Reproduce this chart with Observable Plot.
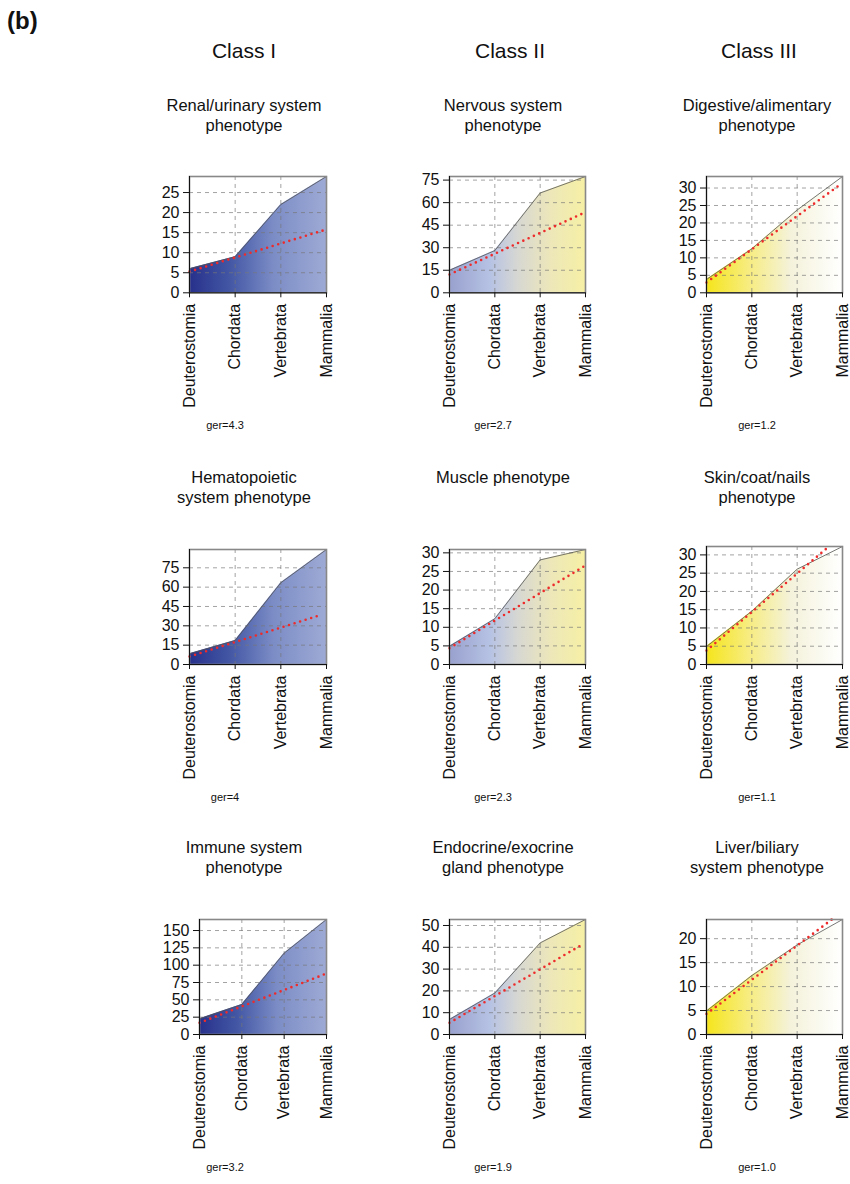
<!DOCTYPE html>
<html><head><meta charset="utf-8">
<script src="https://cdn.jsdelivr.net/npm/d3@7"></script>
<script src="https://cdn.jsdelivr.net/npm/@observablehq/plot@0.6"></script>
<style>
body{margin:0;background:#fff;font-family:"Liberation Sans",Arial,sans-serif;overflow:hidden}
#page{position:relative;width:850px;height:1184px;overflow:hidden}
.t{position:absolute;white-space:nowrap;transform:translateX(-50%);text-align:center;color:#111}
.p{position:absolute}
</style></head><body><div id="page"></div>
<script>
// ---- data ----
const clades = ["Deuterostomia", "Chordata", "Vertebrata", "Mammalia"];
const classes = ["Class I", "Class II", "Class III"];
const titles = [
  "Renal/urinary system\nphenotype", "Nervous system\nphenotype", "Digestive/alimentary\nphenotype",
  "Hematopoietic\nsystem phenotype", "Muscle phenotype", "Skin/coat/nails\nphenotype",
  "Immune system\nphenotype", "Endocrine/exocrine\ngland phenotype", "Liver/biliary\nsystem phenotype"
];
const gerLabels = ["ger=4.3", "ger=2.7", "ger=1.2", "ger=4", "ger=2.3", "ger=1.1", "ger=3.2", "ger=1.9", "ger=1.0"];
const counts = [
  [6, 9, 22, 29],
  [15, 28.1, 66.4, 77.4],
  [3.8, 12.6, 23.7, 33.3],
  [8.3, 18.6, 63.4, 89.2],
  [4.9, 12.3, 28.1, 30.9],
  [4.9, 14.6, 26.1, 32.3],
  [22.6, 43.3, 117.3, 165.9],
  [6.9, 19, 42, 52.75],
  [4.9, 12.3, 18.7, 24]
];
const fitStart = [5.3, 12.2, 2.95, 6.2, 4.4, 3.8, 16.8, 5.35, 4.3];
const fitEnd = [15.8, 53.1, 31.0, 38.0, 26.6, 32.1, 88, 41.3, 24.4];
const fitEndX = [3, 2.96, 2.95, 2.84, 3, 2.68, 3, 2.93, 2.82];
const tickStep = [5, 15, 5, 15, 5, 5, 25, 10, 5];

// ---- styles / layout ----
const gradStops = [
  [[0, "#27308a"], [0.3, "#4357a5"], [0.62, "#7c8dc6"], [1, "#9eaad5"]],
  [[0, "#98a0cd"], [0.3, "#b6c2e4"], [0.5, "#d6d7d3"], [0.75, "#ede7b9"], [1, "#f6f0a5"]],
  [[0, "#f5e51a"], [0.3, "#f7ec7c"], [0.62, "#f4f2da"], [1, "#ffffff"]]
];
const colLeft = [189, 448.5, 706];
const colRight = [326, 584.5, 842];
const rowTop = [176, 549, 919];
const rowBottom = [292.3, 664, 1034];
const classX = [244, 510, 759];
const titleX = [244, 503, 757];
const titleTop = [95, 467, 837];
const gerX = [225, 493, 757];
const gerTop = [418, 790, 1160];

const page = document.getElementById("page");

// gradient defs shared by all panels
const defsSvg = d3.select(page).append("svg").attr("width", 0).attr("height", 0)
  .style("position", "absolute").style("left", 0).style("top", 0);
const defs = defsSvg.append("defs");
gradStops.forEach((stops, c) => {
  const lg = defs.append("linearGradient").attr("id", "grad" + c)
    .attr("x1", 0).attr("x2", 1).attr("y1", 0).attr("y2", 0);
  stops.forEach(([o, col]) => lg.append("stop").attr("offset", o).attr("stop-color", col));
});

function addText(txt, x, y, css) {
  const d = document.createElement("div");
  d.className = "t";
  d.style.left = x + "px";
  d.style.top = y + "px";
  Object.assign(d.style, css);
  d.innerHTML = txt.split("\n").join("<br>");
  page.appendChild(d);
}

// panel label
const b = document.createElement("div");
b.textContent = "(b)";
Object.assign(b.style, {position: "absolute", left: "7px", top: "7px", fontSize: "24px", fontWeight: "bold", color: "#111"});
page.appendChild(b);

classes.forEach((c, i) => addText(c, classX[i], 38, {fontSize: "21px", lineHeight: "25px"}));

const mL = 60, mR = 4, mT = 6, mB = 130;

counts.forEach((vals, i) => {
  const c = i % 3, r = Math.floor(i / 3);
  const left = (c === 0 && r === 2) ? 199 : colLeft[c];
  const top = (i === 5) ? 546 : rowTop[r];
  const pw = colRight[c] - left, ph = rowBottom[r] - top;
  const ymax = d3.max(vals);
  const ticks = d3.range(0, ymax + 1e-9, tickStep[i]);
  const rows = vals.map((v, k) => ({x: k, v}));
  const fit = [{x: 0, v: fitStart[i]}, {x: fitEndX[i], v: fitEnd[i]}];

  const chart = Plot.plot({
    width: mL + pw + mR,
    height: mT + ph + mB,
    marginLeft: mL, marginRight: mR, marginTop: mT, marginBottom: mB,
    style: {fontFamily: '"Liberation Sans", Arial, sans-serif', fontSize: "16px", overflow: "visible", background: "transparent", color: "#111"},
    x: {domain: [0, 3], axis: null},
    y: {domain: [0, ymax], axis: null},
    marks: [
      Plot.areaY(rows, {x: "x", y: "v", fill: `url(#grad${c})`}),
      Plot.gridY(ticks.filter(t => t > 0), {stroke: "#777", strokeOpacity: 0.85, strokeWidth: 0.8, strokeDasharray: "4,4"}),
      Plot.gridX([1, 2], {stroke: "#777", strokeOpacity: 0.85, strokeWidth: 0.8, strokeDasharray: "4,4"}),
      Plot.lineY(rows, {x: "x", y: "v", stroke: "#555", strokeWidth: 0.8}),
      Plot.line(fit, {x: "x", y: "v", stroke: "#ee2b2b", strokeWidth: 2.6, strokeDasharray: "0,5.8", strokeLinecap: "round"}),
      Plot.frame({stroke: "#888", strokeWidth: 1.6}),
      Plot.ruleX([0], {stroke: "#111", strokeWidth: 1}),
      Plot.ruleY([0], {stroke: "#111", strokeWidth: 1}),
      Plot.axisY(ticks, {label: null, tickSize: 6, tickPadding: 4, fontSize: 16, stroke: "#111", fill: "#111"}),
      Plot.axisX([0, 1, 2, 3], {label: null, tickFormat: k => clades[k], tickRotate: -90, tickSize: 5, tickPadding: 6, fontSize: 16, stroke: "#111", fill: "#111"})
    ]
  });
  chart.classList.add("p");
  chart.style.left = (left - mL) + "px";
  chart.style.top = (top - mT) + "px";
  page.appendChild(chart);

  addText(titles[i], titleX[c], titleTop[r], {fontSize: "16.5px", lineHeight: "20px"});
  addText(gerLabels[i], gerX[c], gerTop[r], {fontSize: "11px", lineHeight: "14px"});
});
</script>
</body></html>
